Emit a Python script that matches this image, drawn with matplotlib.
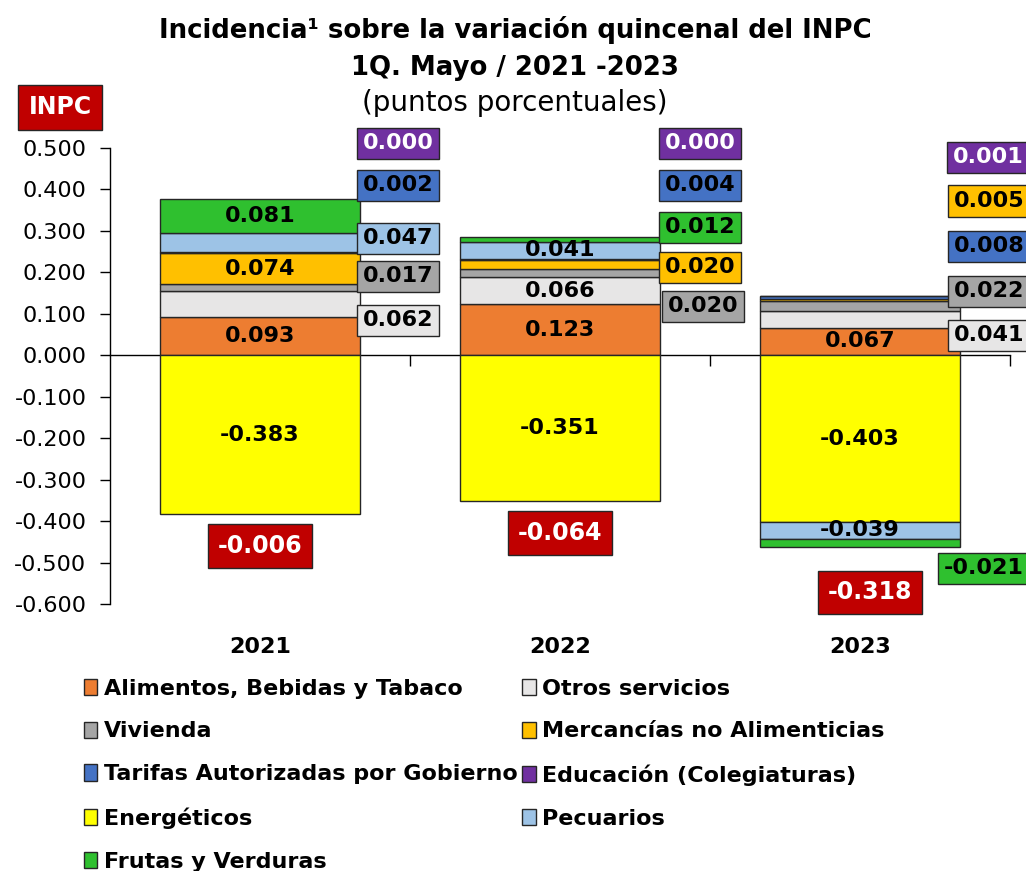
import matplotlib
matplotlib.use("Agg")
import matplotlib.pyplot as plt
import numpy as np

plt.rcParams['font.family'] = ['DejaVu Sans']

# data
years = ['2021', '2022', '2023']
series = ['Alimentos, Bebidas y Tabaco', 'Otros servicios', 'Vivienda',
          'Mercancías no Alimenticias', 'Tarifas Autorizadas por Gobierno',
          'Educación (Colegiaturas)', 'Energéticos', 'Pecuarios', 'Frutas y Verduras']
alimentos = [0.093, 0.123, 0.067]
otros = [0.062, 0.066, 0.041]
vivienda = [0.017, 0.020, 0.022]
mercancias = [0.074, 0.020, 0.005]
tarifas = [0.002, 0.004, 0.008]
educacion = [0.000, 0.000, 0.001]
energeticos = [-0.383, -0.351, -0.403]
pecuarios = [0.047, 0.041, -0.039]
frutas = [0.081, 0.012, -0.021]
inpc = [-0.006, -0.064, -0.318]

# styles
colors = ['#ED7D31', '#E7E6E6', '#A5A5A5', '#FFC000', '#4472C4',
          '#7030A0', '#FFFF00', '#9DC3E6', '#2FC02F']
white_text = {5}
values = [alimentos, otros, vivienda, mercancias, tarifas,
          educacion, energeticos, pecuarios, frutas]

# labels placed outside the bars: (series index, year index) -> (x, y)
outside = {
    (1, 0): (0.46, 0.084), (2, 0): (0.46, 0.191), (7, 0): (0.46, 0.282),
    (4, 0): (0.46, 0.410), (5, 0): (0.46, 0.511),
    (2, 1): (1.477, 0.118), (3, 1): (1.467, 0.212), (8, 1): (1.467, 0.309),
    (4, 1): (1.467, 0.410), (5, 1): (1.467, 0.511),
    (1, 2): (2.43, 0.048), (2, 2): (2.43, 0.154), (4, 2): (2.43, 0.263),
    (3, 2): (2.43, 0.372), (5, 2): (2.427, 0.478), (8, 2): (2.412, -0.514),
}
inpc_pos = [(0.0, -0.461), (1.0, -0.429), (2.033, -0.572)]

fig = plt.figure(figsize=(10.26, 8.71), dpi=100)
ax = fig.add_axes([0.1072, 0.3065, 0.8772, 0.5236])

x = np.arange(len(years))
width = 0.667
pos_base = np.zeros(len(years))
neg_base = np.zeros(len(years))
bars = {}
for i in range(len(series)):
    v = np.array(values[i])
    bottom = np.where(v >= 0, pos_base, neg_base)
    bars[i] = ax.bar(x, v, width, bottom=bottom, color=colors[i],
                     edgecolor='#262626', linewidth=1.0, label=series[i], zorder=2)
    for j in range(len(years)):
        txt = f"{v[j]:.3f}"
        tc = 'white' if i in white_text else 'black'
        if (i, j) in outside:
            px, py = outside[(i, j)]
            ax.text(px, py, txt, ha='center', va='center', fontsize=16,
                    fontweight='bold', color=tc, zorder=5, clip_on=False,
                    bbox=dict(boxstyle='square,pad=0.25', fc=colors[i],
                              ec='#262626', lw=1.0))
        else:
            ax.text(x[j], bottom[j] + v[j] / 2, txt, ha='center', va='center',
                    fontsize=16, fontweight='bold', color=tc, zorder=5)
    pos_base = pos_base + np.where(v >= 0, v, 0)
    neg_base = neg_base + np.where(v < 0, v, 0)

for j, val in enumerate(inpc):
    px, py = inpc_pos[j]
    ax.text(px, py, f"{val:.3f}", ha='center', va='center', fontsize=17,
            fontweight='bold', color='white', zorder=5,
            bbox=dict(boxstyle='square,pad=0.42', fc='#C00000', ec='#262626', lw=1.0))

ax.set_xlim(-0.5, 2.5)
ax.set_ylim(-0.6, 0.5)
ax.set_yticks(np.arange(-0.6, 0.51, 0.1))
ax.yaxis.set_major_formatter(plt.FuncFormatter(lambda v, p: f"{v + 0.0:.3f}".replace('-0.000', '0.000')))
ax.tick_params(axis='y', direction='out', length=7, width=1, labelsize=16, pad=10)
for s in ['top', 'right', 'bottom']:
    ax.spines[s].set_visible(False)
ax.spines['left'].set_linewidth(1)

ax.set_xticks(x)
ax.set_xticklabels(years, fontsize=16, fontweight='bold')
ax.tick_params(axis='x', length=0, pad=24)

# zero line with category separators
sec = ax.secondary_xaxis(0.6 / 1.1)
sec.set_xticks([0.5, 1.5, 2.5])
sec.set_xticklabels([])
sec.tick_params(direction='in', length=8, width=1)
for s in sec.spines.values():
    s.set_linewidth(1)

fig.text(0.502, 0.965, 'Incidencia¹ sobre la variación quincenal del INPC',
         ha='center', va='center', fontsize=18.7, fontweight='bold')
fig.text(0.502, 0.922, '1Q. Mayo / 2021 -2023', ha='center', va='center',
         fontsize=18.7, fontweight='bold')
fig.text(0.502, 0.882, '(puntos porcentuales)', ha='center', va='center', fontsize=20)
fig.text(0.0585, 0.877, 'INPC', ha='center', va='center', fontsize=17,
         fontweight='bold', color='white',
         bbox=dict(boxstyle='square,pad=0.45', fc='#C00000', ec='#262626', lw=1.0))

order = [0, 2, 4, 6, 8, 1, 3, 5, 7]
fig.legend([bars[i] for i in order], [series[i] for i in order], ncol=2,
           loc='upper left', bbox_to_anchor=(0.082, 0.221), frameon=False,
           prop={'size': 16, 'weight': 'bold'}, handlelength=0.6, handleheight=0.75,
           handletextpad=0.3, columnspacing=0.2, labelspacing=1.03,
           borderpad=0, borderaxespad=0)

fig.savefig('out.png', dpi=100)
